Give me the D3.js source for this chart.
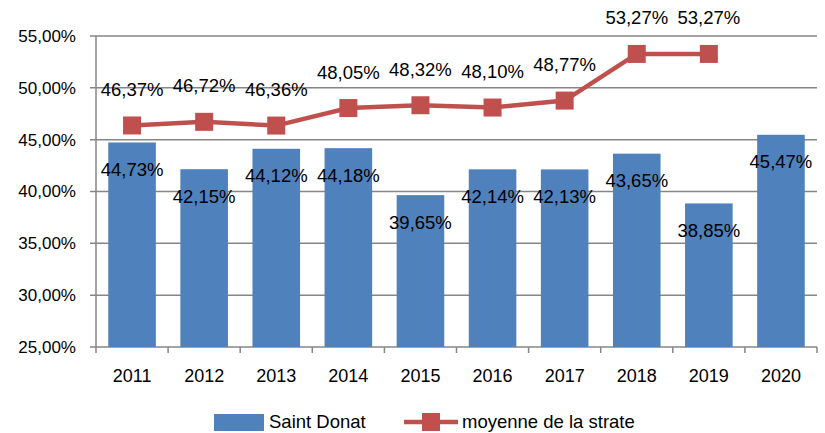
<!DOCTYPE html>
<html>
<head>
<meta charset="utf-8">
<script src="https://cdn.jsdelivr.net/npm/d3@7"></script>
<style>
  body { margin: 0; background: #fff; }
  text { font-family: "Liberation Sans", Arial, sans-serif; fill: #000; }
</style>
</head>
<body>
<div id="chart"></div>
<script>
// Données du graphique
const annees = ["2011", "2012", "2013", "2014", "2015", "2016", "2017", "2018", "2019", "2020"];
const saintDonat = [44.73, 42.15, 44.12, 44.18, 39.65, 42.14, 42.13, 43.65, 38.85, 45.47];
const moyenneStrate = [46.37, 46.72, 46.36, 48.05, 48.32, 48.10, 48.77, 53.27, 53.27, null];
const ticksY = [25, 30, 35, 40, 45, 50, 55];

const width = 825, height = 433;
const margin = { top: 36, right: 8, bottom: 86, left: 96 };
const fmt = v => d3.format(".2f")(v).replace(".", ",") + "%";

const svg = d3.select("#chart").append("svg")
    .attr("width", width)
    .attr("height", height);

const x = d3.scaleBand().domain(annees)
    .range([margin.left, width - margin.right])
    .paddingInner(0.34).paddingOuter(0.17);

const y = d3.scaleLinear().domain([25, 55])
    .range([height - margin.bottom, margin.top]);

const gris = "#868686";

// Lignes de grille horizontales
svg.append("g").selectAll("line").data(ticksY).join("line")
    .attr("x1", margin.left - 6)
    .attr("x2", width - margin.right)
    .attr("y1", d => y(d))
    .attr("y2", d => y(d))
    .attr("stroke", gris)
    .attr("stroke-width", 1.5);

// Etiquettes axe Y
svg.append("g").selectAll("text").data(ticksY).join("text")
    .attr("x", margin.left - 20)
    .attr("y", d => y(d))
    .attr("dy", "0.35em")
    .attr("text-anchor", "end")
    .style("font-size", "17px")
    .text(d => fmt(d));

// Barres
svg.append("g").selectAll("rect").data(saintDonat).join("rect")
    .attr("x", (d, i) => x(annees[i]))
    .attr("width", x.bandwidth())
    .attr("y", d => y(d))
    .attr("height", d => y(25) - y(d))
    .attr("fill", "#4F81BD");

// Axe Y (ligne verticale)
svg.append("line")
    .attr("x1", margin.left).attr("x2", margin.left)
    .attr("y1", margin.top).attr("y2", y(25))
    .attr("stroke", gris).attr("stroke-width", 1.5);

// Axe X avec graduations entre catégories
const step = x.step();
const bornes = d3.range(annees.length + 1).map(i => margin.left + i * step);
svg.append("g").selectAll("line").data(bornes).join("line")
    .attr("x1", d => d).attr("x2", d => d)
    .attr("y1", y(25)).attr("y2", y(25) + 6)
    .attr("stroke", gris).attr("stroke-width", 1.5);

svg.append("g").selectAll("text").data(annees).join("text")
    .attr("x", d => x(d) + x.bandwidth() / 2)
    .attr("y", y(25) + 29)
    .attr("dy", "0.35em")
    .attr("text-anchor", "middle")
    .style("font-size", "18px")
    .text(d => d);

// Etiquettes des barres
svg.append("g").selectAll("text").data(saintDonat).join("text")
    .attr("x", (d, i) => x(annees[i]) + x.bandwidth() / 2)
    .attr("y", d => y(d) + 27)
    .attr("dy", "0.35em")
    .attr("text-anchor", "middle")
    .style("font-size", "18.5px")
    .text(d => fmt(d));

// Ligne moyenne de la strate
const rouge = "#C0504D";
const pts = moyenneStrate.map((v, i) => ({ annee: annees[i], v })).filter(d => d.v !== null);
const cx = d => x(d.annee) + x.bandwidth() / 2;

svg.append("path")
    .datum(pts)
    .attr("fill", "none")
    .attr("stroke", rouge)
    .attr("stroke-width", 4.5)
    .attr("d", d3.line().x(cx).y(d => y(d.v)));

const m = 18;
svg.append("g").selectAll("rect").data(pts).join("rect")
    .attr("x", d => cx(d) - m / 2)
    .attr("y", d => y(d.v) - m / 2)
    .attr("width", m).attr("height", m)
    .attr("fill", rouge);

svg.append("g").selectAll("text").data(pts).join("text")
    .attr("x", cx)
    .attr("y", d => y(d.v) - 36)
    .attr("dy", "0.35em")
    .attr("text-anchor", "middle")
    .style("font-size", "18.5px")
    .text(d => fmt(d.v));

// Légende
const leg = svg.append("g");
leg.append("rect")
    .attr("x", 214).attr("y", 414).attr("width", 50).attr("height", 17)
    .attr("fill", "#4F81BD");
leg.append("text")
    .attr("x", 269).attr("y", 422).attr("dy", "0.35em")
    .style("font-size", "18.5px")
    .text("Saint Donat");
leg.append("line")
    .attr("x1", 404).attr("x2", 458).attr("y1", 422).attr("y2", 422)
    .attr("stroke", rouge).attr("stroke-width", 4.5);
leg.append("rect")
    .attr("x", 431 - m / 2).attr("y", 422 - m / 2).attr("width", m).attr("height", m)
    .attr("fill", rouge);
leg.append("text")
    .attr("x", 462).attr("y", 422).attr("dy", "0.35em")
    .style("font-size", "18.5px")
    .text("moyenne de la strate");
</script>
</body>
</html>
